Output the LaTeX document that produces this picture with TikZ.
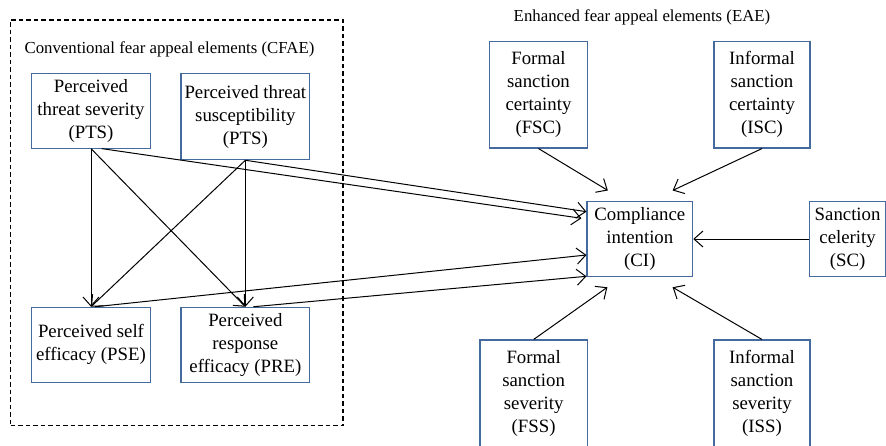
\documentclass[tikz,border=0pt]{standalone}
\usepackage{fontspec}
\setmainfont{Liberation Serif}
\usetikzlibrary{arrows.meta}
\definecolor{boxblue}{RGB}{68,106,158}
\tikzset{
  concept/.style={draw=boxblue, line width=1.1pt, rectangle, inner sep=0pt,
    align=center, font=\fontsize{18.8}{23}\selectfont},
  grouplabel/.style={inner sep=0pt, font=\fontsize{16.8}{20}\selectfont},
  link/.style={line width=1pt, -{Straight Barb[length=9pt,width=16pt,line width=1pt]}},
  groupframe/.style={draw, line width=1.2pt, dash pattern=on 4.5pt off 3pt,
    rectangle, inner sep=0pt}
}
\begin{document}
\begin{tikzpicture}[x=1pt,y=-1pt]
\useasboundingbox (0,0) rectangle (886,445);

% group of conventional elements
\node[groupframe, minimum width=332.3pt, minimum height=405.7pt] (cfae) at (176.85,222.85) {};
\node[grouplabel] (cfaelabel) at (169.5,49) {Conventional fear appeal elements (CFAE)};
\node[grouplabel] (eaelabel) at (642,17) {Enhanced fear appeal elements (EAE)};

% conventional fear appeal elements
\node[concept, minimum width=118.6pt, minimum height=74.3pt] (pts) at (91,110.9)
  {Perceived\\threat severity\\(PTS)};
\node[concept, minimum width=128.7pt, minimum height=86pt] (ptsu) at (245.35,116.7)
  {Perceived threat\\susceptibility\\(PTS)};
\node[concept, minimum width=118.6pt, minimum height=75pt] (pse) at (91,344.8)
  {Perceived self\\efficacy (PSE)};
\node[concept, minimum width=128.7pt, minimum height=75pt] (pre) at (245.35,344.8)
  {Perceived\\response\\efficacy (PRE)};

% outcome
\node[concept, minimum width=105.7pt, minimum height=74.6pt] (ci) at (639.85,239)
  {Compliance\\intention\\(CI)};

% enhanced fear appeal elements
\node[concept, minimum width=97.6pt, minimum height=106.7pt] (fsc) at (538.5,94.65)
  {Formal\\sanction\\certainty\\(FSC)};
\node[concept, minimum width=96pt, minimum height=106.7pt] (isc) at (762,94.65)
  {Informal\\sanction\\certainty\\(ISC)};
\node[concept, minimum width=75.8pt, minimum height=74.6pt] (sc) at (847.6,239)
  {Sanction\\celerity\\(SC)};
\node[concept, minimum width=107.3pt, minimum height=107.6pt] (fss) at (533.65,393.8)
  {Formal\\sanction\\severity\\(FSS)};
\node[concept, minimum width=96pt, minimum height=107.6pt] (iss) at (762,393.8)
  {Informal\\sanction\\severity\\(ISS)};

% threat to efficacy paths
\draw[link] (pts.south) -- (pse.north);
\draw[link] (pts.south) -- (pre.north);
\draw[link] (ptsu.south) -- (pse.north);
\draw[link] (ptsu.south) -- (pre.north);

% conventional elements to compliance intention
\draw[link] ([xshift=10.7pt]pts.south) -- ([xshift=-5pt,yshift=20.7pt]ci.west);
\draw[link] (ptsu.south) -- ([yshift=27.3pt]ci.west);
\draw[link] ([xshift=4pt]pse.north) -- ([yshift=-16pt]ci.west);
\draw[link] ([xshift=8pt]pre.north) -- ([yshift=-37.3pt]ci.west);

% enhanced elements to compliance intention
\draw[link] (fsc.south) -- ([xshift=-32pt,yshift=10.7pt]ci.north);
\draw[link] (isc.south) -- ([xshift=32.8pt,yshift=10.7pt]ci.north);
\draw[link] (sc.west) -- (ci.east);
\draw[link] (fss.north) -- ([xshift=-32.5pt,yshift=-10.4pt]ci.south);
\draw[link] (iss.north) -- ([xshift=32.8pt,yshift=-10.4pt]ci.south);
\end{tikzpicture}
\end{document}
